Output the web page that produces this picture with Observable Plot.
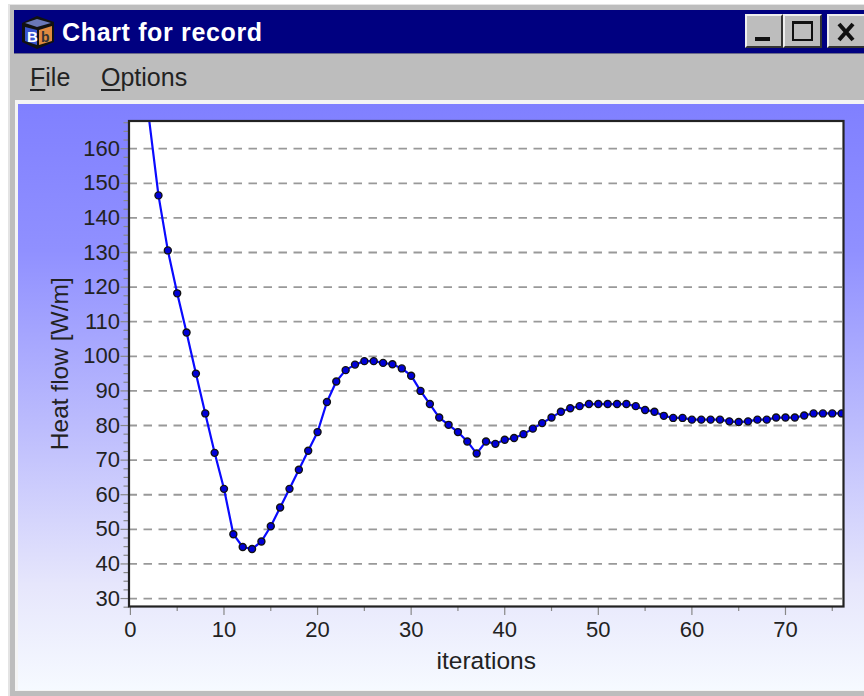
<!DOCTYPE html>
<html><head><meta charset="utf-8">
<script src="https://cdn.jsdelivr.net/npm/d3@7"></script>
<script src="https://cdn.jsdelivr.net/npm/@observablehq/plot@0.6"></script>
<style>
html,body{margin:0;padding:0;background:#fff;width:864px;height:696px;overflow:hidden}
#win{position:absolute;left:8px;top:4px;width:860px;height:692px;background:#bdbdbd;border-top:1px solid #e4e4e4;border-left:2px solid #e4e4e4;box-sizing:border-box}
#bar{position:absolute;left:14px;top:10px;width:850px;height:43px;background:#000080;border-bottom:1px solid #6a6a8a}
#title{position:absolute;left:62px;top:14px;color:#fff;font:bold 25px "Liberation Sans",Arial,sans-serif;line-height:36px;letter-spacing:.65px}
#icon{position:absolute;left:19px;top:14px}
.btn{position:absolute;top:14px;height:34px;background:#bdbdbd;box-sizing:border-box;border:2px solid;border-color:#eee #333 #333 #eee}
.menu{position:absolute;top:62px;font:25px "Liberation Sans",Arial,sans-serif;color:#222;line-height:30px}
.menu u{text-underline-offset:3px}
#sep{position:absolute;left:15px;top:100px;width:849px;height:591px;background:#f4f4f4}
#panel{position:absolute;left:18px;top:104px;width:846px;height:586px;background:linear-gradient(to bottom,#8080ff 0%,#9090ff 25%,#bcbcfd 55%,#e6e6fc 82%,#f6faff 100%)}
#panel svg{display:block;background:transparent}
</style></head><body>
<div id="win"></div>
<div id="bar"></div>
<svg id="icon" width="38" height="36" viewBox="0 0 38 36">
<path d="M3 9 L18 2 L35 8 L35 28 L18 35 L3 28 Z" fill="#111"/>
<path d="M6 13 L18 16 L18 31 L6 27 Z" fill="#3a55d0"/>
<path d="M20 16 L33 12 L33 27 L20 31 Z" fill="#e08a40"/>
<path d="M6 9 L18 5 L32 9 L18 13 Z" fill="#6a78b8"/>
<text x="8" y="28" font-family="Liberation Sans" font-weight="bold" font-size="15" fill="#fff">B</text>
<text x="22" y="28" font-family="Liberation Sans" font-weight="bold" font-size="14" fill="#333">b</text>
</svg>
<div id="title">Chart for record</div>
<div class="btn" style="left:745px;width:38px"><div style="position:absolute;left:8px;bottom:5px;width:15px;height:4px;background:#111"></div></div>
<div class="btn" style="left:783px;width:39px"><div style="position:absolute;left:7px;top:5px;width:21px;height:20px;border:2px solid #111;border-top-width:3px;box-sizing:border-box"></div></div>
<div class="btn" style="left:827px;width:40px"><svg width="30" height="28" style="position:absolute;left:5px;top:2px"><path d="M5 6 L19 22 M19 6 L5 22" stroke="#111" stroke-width="4"/></svg></div>
<div class="menu" style="left:30px"><u>F</u>ile</div>
<div class="menu" style="left:101px"><u>O</u>ptions</div>
<div id="sep"></div>
<div id="panel"></div>
<script>
const iterations = d3.range(2, 77);
const heatFlow = [168.4,146.5,130.6,118.2,106.9,95,83.5,72.1,61.7,48.6,44.9,44.3,46.5,50.9,56.3,61.7,67.2,72.7,78.1,86.8,92.7,96,97.6,98.6,98.6,98.1,97.7,96.5,94.4,90,86.2,82.3,80.2,78.1,75.4,71.9,75.4,74.7,75.9,76.4,77.5,79.1,80.7,82.3,84,85,85.6,86.2,86.2,86.2,86.2,86.2,85.6,84.5,84,82.8,82.2,82.2,81.7,81.7,81.7,81.7,81.2,81,81.2,81.7,81.7,82.3,82.3,82.3,82.9,83.5,83.5,83.5,83.5];
const xMajor = [0,10,20,30,40,50,60,70];
const xMinor = [5,15,25,35,45,55,65,75];
const yMajor = [30,40,50,60,70,80,90,100,110,120,130,140,150,160];
const yMinor = d3.range(27.5, 168, 2.5).filter(v => v % 10 !== 0);
const rows = iterations.map((x,i)=>({x,y:heatFlow[i]}));
const font = '"Liberation Sans",Arial,sans-serif';
const chart = Plot.plot({
  width:846, height:586,
  marginLeft:110.5, marginRight:21, marginTop:16.5, marginBottom:84,
  style:{background:"transparent",fontFamily:font,fontSize:"22px",color:"#222",overflow:"visible"},
  x:{domain:[-0.15,76.2]},
  y:{domain:[27.7,168]},
  marks:[
    Plot.frame({fill:"white",stroke:null}),
    Plot.gridY(yMajor,{stroke:"#999",strokeOpacity:1,strokeWidth:1.8,strokeDasharray:"8.5 6.5"}),
    Plot.axisY(yMinor,{tickSize:5,text:null,label:null,stroke:"#888",strokeWidth:1.2}),
    Plot.axisY(yMajor,{tickSize:8,tickPadding:1,label:null,stroke:"#888",strokeWidth:1.2,fill:"#222",fontSize:22}),
    Plot.axisX(xMinor,{tickSize:5,text:null,label:null,stroke:"#888",strokeWidth:1.2}),
    Plot.axisX(xMajor,{tickSize:9,tickPadding:6,label:null,stroke:"#888",strokeWidth:1.2,fill:"#222",fontSize:22}),
    Plot.axisY(yMajor,{tickSize:0,text:null,label:"Heat flow [W/m]",labelAnchor:"center",labelArrow:"none",labelOffset:78,fill:"#222",fontSize:24.5}),
    Plot.axisX(xMajor,{tickSize:0,text:null,label:"iterations",labelAnchor:"center",labelArrow:"none",labelOffset:62,fill:"#222",fontSize:24.5}),
    Plot.line(rows,{x:"x",y:"y",stroke:"#0a0aff",strokeWidth:2.2,clip:true,curve:"linear"}),
    Plot.dot(rows.filter(d=>d.y<165),{x:"x",y:"y",r:3.5,fill:"#0000d8",stroke:"#111",strokeWidth:1.4,clip:true}),
    Plot.frame({stroke:"#222",strokeWidth:2.2})
  ]
});
document.getElementById("panel").appendChild(chart);
</script>
</body></html>
